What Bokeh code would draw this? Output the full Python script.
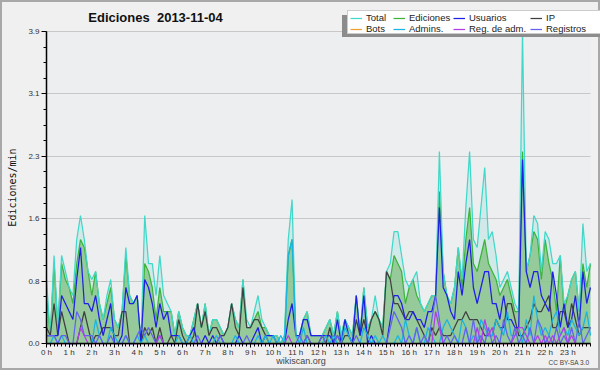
from bokeh.plotting import figure
from bokeh.models import (Range1d, FixedTicker, CustomJSTickFormatter, PrintfTickFormatter,
                          Legend, LegendItem, Label, BoxAnnotation, ColumnDataSource)
from bokeh.embed import file_html
from bokeh.resources import INLINE

# ---------------- data (edits per minute, 10-minute slots, 2013-11-04) ----------------
title_text = "Ediciones\u00a0 2013-11-04"
y_label = "Ediciones/min"
credit_site = "wikiscan.org"
credit_license = "CC BY-SA 3.0"
hour_labels_suffix = " h"

total = [
    0.8, 0.1, 1.1, 0.2, 1.1, 0.9, 0.7, 0.6, 1.3, 1.6,
    1.3, 0.9, 0.8, 0.9, 0.5, 0.3, 0.6, 0.8, 0.3, 0.2,
    0.4, 1.2, 0.6, 0.5, 0.6, 0.0, 1.6, 1.0, 1.0, 0.6,
    1.1, 0.6, 0.5, 0.4, 0.1, 0.4, 0.2, 0.1, 0.1, 0.3,
    0.5, 0.2, 0.5, 0.1, 0.3, 0.3, 0.2, 0.1, 0.2, 0.5,
    0.3, 0.2, 0.8, 0.3, 0.2, 0.4, 0.6, 0.3, 0.2, 0.1,
    0.1, 0.1, 0.0, 0.1, 1.3, 1.8, 0.1, 0.1, 0.3, 0.4,
    0.1, 0.1, 0.1, 0.1, 0.2, 0.3, 0.1, 0.4, 0.1, 0.3,
    0.2, 0.1, 0.6, 0.1, 0.7, 0.2, 0.3, 0.6, 0.3, 0.2,
    0.9, 1.0, 1.4, 1.4, 1.1, 0.8, 0.7, 0.8, 0.9, 0.5,
    0.4, 0.5, 0.6, 0.6, 2.4, 0.9, 0.6, 0.5, 0.7, 1.2,
    0.8, 1.7, 2.4, 1.3, 1.2, 1.7, 2.2, 1.3, 1.4, 1.1,
    0.7, 0.8, 0.9, 0.7, 0.5, 0.4, 3.9, 0.9, 1.1, 1.6,
    1.5, 0.9, 1.4, 1.3, 1.0, 1.0, 1.1, 0.5, 0.6, 0.8,
    0.9, 0.4, 1.5, 0.9, 1.0,
]
ediciones = [
    0.6, 0.1, 1.0, 0.2, 1.0, 0.8, 0.7, 0.5, 1.0, 1.3,
    1.2, 0.9, 0.6, 0.9, 0.5, 0.3, 0.5, 0.7, 0.3, 0.2,
    0.4, 1.1, 0.6, 0.5, 0.6, 0.0, 1.0, 0.9, 0.7, 0.3,
    0.7, 0.4, 0.4, 0.4, 0.1, 0.4, 0.2, 0.1, 0.1, 0.3,
    0.5, 0.2, 0.5, 0.1, 0.3, 0.3, 0.2, 0.1, 0.2, 0.5,
    0.3, 0.2, 0.8, 0.2, 0.2, 0.3, 0.4, 0.2, 0.2, 0.1,
    0.1, 0.1, 0.0, 0.1, 1.1, 1.3, 0.1, 0.1, 0.3, 0.4,
    0.1, 0.1, 0.1, 0.1, 0.2, 0.3, 0.1, 0.4, 0.1, 0.3,
    0.2, 0.1, 0.6, 0.1, 0.7, 0.2, 0.3, 0.4, 0.3, 0.2,
    0.9, 0.8, 1.1, 1.0, 0.9, 0.5, 0.7, 0.8, 0.6, 0.5,
    0.4, 0.5, 0.6, 0.6, 1.9, 0.9, 0.6, 0.5, 0.7, 1.2,
    0.7, 1.3, 1.7, 1.0, 0.9, 1.1, 1.3, 1.0, 0.9, 0.8,
    0.6, 0.7, 0.8, 0.6, 0.4, 0.4, 2.4, 0.9, 1.1, 1.4,
    1.3, 0.8, 1.3, 1.0, 0.8, 0.4, 1.1, 0.4, 0.6, 0.8,
    0.9, 0.4, 1.0, 0.7, 1.0,
]
usuarios = [
    0.1, 0.1, 0.1, 0.1, 0.6, 0.5, 0.4, 0.3, 0.8, 1.2,
    0.5, 0.5, 0.4, 0.6, 0.3, 0.1, 0.3, 0.5, 0.0, 0.0,
    0.1, 0.7, 0.5, 0.5, 0.6, 0.0, 0.8, 0.7, 0.5, 0.2,
    0.5, 0.3, 0.4, 0.1, 0.1, 0.1, 0.0, 0.0, 0.1, 0.2,
    0.0, 0.0, 0.1, 0.0, 0.1, 0.0, 0.1, 0.0, 0.0, 0.0,
    0.0, 0.1, 0.0, 0.0, 0.0, 0.1, 0.2, 0.0, 0.1, 0.1,
    0.1, 0.0, 0.0, 0.0, 0.3, 0.5, 0.1, 0.1, 0.3, 0.3,
    0.1, 0.1, 0.1, 0.1, 0.1, 0.1, 0.0, 0.3, 0.0, 0.3,
    0.1, 0.0, 0.6, 0.1, 0.6, 0.0, 0.1, 0.0, 0.0, 0.0,
    0.0, 0.3, 0.6, 0.6, 0.5, 0.3, 0.3, 0.4, 0.3, 0.3,
    0.2, 0.4, 0.4, 0.6, 1.7, 0.7, 0.6, 0.4, 0.3, 0.9,
    0.6, 1.0, 1.3, 0.7, 0.5, 0.7, 0.9, 0.9, 0.5, 0.5,
    0.3, 0.6, 0.3, 0.3, 0.2, 0.2, 2.3, 0.9, 0.7, 0.9,
    0.9, 0.6, 0.5, 0.4, 0.9, 0.6, 0.2, 0.5, 0.2, 0.3,
    0.6, 0.2, 0.9, 0.5, 0.7,
]
ip = [
    0.2, 0.1, 0.5, 0.1, 0.4, 0.2, 0.0, 0.0, 0.0, 0.2,
    0.4, 0.2, 0.0, 0.1, 0.1, 0.2, 0.2, 0.2, 0.1, 0.1,
    0.4, 0.4, 0.0, 0.0, 0.0, 0.0, 0.2, 0.1, 0.2, 0.0,
    0.2, 0.0, 0.0, 0.1, 0.0, 0.3, 0.1, 0.0, 0.0, 0.1,
    0.5, 0.2, 0.4, 0.1, 0.2, 0.2, 0.1, 0.1, 0.2, 0.5,
    0.2, 0.1, 0.7, 0.2, 0.2, 0.3, 0.3, 0.2, 0.1, 0.0,
    0.0, 0.0, 0.0, 0.0, 0.0, 0.0, 0.0, 0.0, 0.0, 0.1,
    0.0, 0.0, 0.0, 0.1, 0.0, 0.2, 0.0, 0.1, 0.0, 0.1,
    0.1, 0.0, 0.3, 0.1, 0.3, 0.1, 0.3, 0.4, 0.3, 0.1,
    0.9, 0.8, 0.5, 0.5, 0.4, 0.3, 0.4, 0.4, 0.3, 0.2,
    0.1, 0.0, 0.2, 0.1, 0.2, 0.1, 0.1, 0.1, 0.2, 0.3,
    0.3, 0.4, 0.3, 0.3, 0.3, 0.2, 0.1, 0.1, 0.1, 0.3,
    0.2, 0.2, 0.5, 0.5, 0.3, 0.1, 0.1, 0.2, 0.3, 0.5,
    0.4, 0.4, 0.5, 0.6, 0.2, 0.2, 0.4, 0.4, 0.2, 0.5,
    0.3, 0.1, 0.2, 0.2, 0.2,
]
bots = [
    0, 0, 0, 0, 0, 0, 0, 0, 0, 0, 0, 0, 0, 0, 0, 0, 0, 0, 0, 0,
    0, 0, 0, 0, 0, 0, 0, 0, 0, 0, 0, 0, 0, 0, 0, 0, 0, 0, 0, 0,
    0, 0, 0, 0, 0, 0, 0, 0, 0, 0, 0, 0, 0, 0, 0, 0, 0, 0, 0, 0,
    0, 0, 0, 0, 0, 0, 0, 0, 0, 0, 0, 0, 0, 0, 0, 0, 0, 0, 0, 0,
    0, 0, 0, 0, 0, 0, 0, 0, 0, 0, 0, 0, 0, 0, 0, 0, 0, 0, 0, 0,
    0, 0, 0, 0, 0, 0, 0, 0, 0, 0, 0, 0, 0, 0, 0, 0, 0, 0, 0, 0,
    0, 0, 0, 0, 0, 0, 0, 0, 0, 0, 0, 0, 0, 0, 0, 0, 0, 0, 0, 0,
    0, 0, 0, 0, 0,
]
admins = [
    0.0, 0.0, 0.1, 0.0, 0.1, 0.0, 0.0, 0.0, 0.0, 0.0,
    0.0, 0.0, 0.0, 0.3, 0.1, 0.0, 0.0, 0.2, 0.1, 0.0,
    0.0, 0.1, 0.0, 0.0, 0.1, 0.0, 0.1, 0.0, 0.0, 0.0,
    0.1, 0.0, 0.0, 0.0, 0.0, 0.1, 0.0, 0.0, 0.1, 0.0,
    0.0, 0.0, 0.0, 0.0, 0.0, 0.1, 0.0, 0.0, 0.0, 0.0,
    0.1, 0.0, 0.0, 0.0, 0.0, 0.0, 0.1, 0.0, 0.1, 0.0,
    0.1, 0.0, 0.1, 0.0, 1.1, 1.3, 0.1, 0.0, 0.2, 0.0,
    0.0, 0.0, 0.0, 0.0, 0.1, 0.0, 0.1, 0.0, 0.0, 0.2,
    0.1, 0.0, 0.0, 0.0, 0.2, 0.1, 0.0, 0.1, 0.0, 0.1,
    0.0, 0.0, 0.0, 0.1, 0.0, 0.3, 0.1, 0.0, 0.2, 0.0,
    0.0, 0.2, 0.1, 0.0, 0.0, 0.2, 0.3, 0.2, 0.1, 0.0,
    0.3, 0.2, 0.0, 0.1, 0.0, 0.3, 0.2, 0.1, 0.1, 0.3,
    0.2, 0.1, 0.4, 0.1, 0.1, 0.2, 0.0, 0.3, 0.1, 0.6,
    0.3, 0.1, 0.2, 0.1, 0.3, 0.4, 0.1, 0.2, 0.1, 0.3,
    0.2, 0.1, 0.2, 0.4, 0.1,
]
reg_adm = [
    0.0, 0.0, 0.0, 0.0, 0.0, 0.0, 0.0, 0.0, 0.0, 0.2,
    0.1, 0.0, 0.0, 0.0, 0.0, 0.0, 0.0, 0.0, 0.0, 0.0,
    0.0, 0.0, 0.0, 0.0, 0.0, 0.0, 0.0, 0.0, 0.0, 0.0,
    0.1, 0.0, 0.0, 0.0, 0.0, 0.0, 0.0, 0.0, 0.0, 0.0,
    0.0, 0.0, 0.0, 0.0, 0.0, 0.0, 0.0, 0.0, 0.0, 0.0,
    0.0, 0.0, 0.0, 0.0, 0.0, 0.0, 0.0, 0.0, 0.0, 0.0,
    0.0, 0.0, 0.0, 0.0, 0.1, 0.0, 0.0, 0.0, 0.0, 0.0,
    0.0, 0.0, 0.0, 0.0, 0.0, 0.0, 0.0, 0.0, 0.0, 0.0,
    0.0, 0.0, 0.0, 0.0, 0.0, 0.0, 0.0, 0.0, 0.0, 0.0,
    0.0, 0.0, 0.0, 0.0, 0.0, 0.0, 0.0, 0.0, 0.0, 0.0,
    0.0, 0.0, 0.0, 0.4, 0.2, 0.0, 0.0, 0.0, 0.0, 0.0,
    0.0, 0.0, 0.0, 0.0, 0.2, 0.0, 0.3, 0.1, 0.2, 0.0,
    0.0, 0.0, 0.0, 0.0, 0.1, 0.2, 0.2, 0.1, 0.0, 0.0,
    0.1, 0.0, 0.1, 0.0, 0.1, 0.0, 0.1, 0.2, 0.0, 0.1,
    0.0, 0.0, 0.0, 0.0, 0.0,
]
registros = [
    0.1, 0.1, 0.1, 0.0, 0.1, 0.1, 0.0, 0.0, 0.4, 0.3,
    0.1, 0.1, 0.1, 0.0, 0.1, 0.0, 0.0, 0.1, 0.0, 0.0,
    0.0, 0.1, 0.0, 0.0, 0.1, 0.2, 0.1, 0.2, 0.1, 0.0,
    0.1, 0.0, 0.0, 0.0, 0.0, 0.0, 0.0, 0.0, 0.0, 0.0,
    0.1, 0.0, 0.0, 0.0, 0.0, 0.0, 0.1, 0.0, 0.0, 0.0,
    0.0, 0.0, 0.0, 0.1, 0.0, 0.0, 0.0, 0.0, 0.0, 0.0,
    0.0, 0.0, 0.0, 0.0, 0.0, 0.0, 0.0, 0.1, 0.0, 0.1,
    0.0, 0.0, 0.0, 0.1, 0.0, 0.0, 0.0, 0.1, 0.0, 0.0,
    0.0, 0.0, 0.1, 0.0, 0.0, 0.0, 0.0, 0.0, 0.0, 0.0,
    0.0, 0.2, 0.4, 0.3, 0.2, 0.0, 0.1, 0.0, 0.2, 0.0,
    0.1, 0.0, 0.3, 0.6, 0.3, 0.0, 0.1, 0.0, 0.1, 0.0,
    0.0, 0.2, 0.0, 0.3, 0.0, 0.1, 0.0, 0.2, 0.0, 0.1,
    0.0, 0.3, 0.1, 0.0, 0.2, 0.0, 0.1, 0.0, 0.2, 0.0,
    0.3, 0.2, 0.0, 0.1, 0.0, 0.2, 0.0, 0.1, 0.0, 0.2,
    0.0, 0.3, 0.0, 0.1, 0.2,
]

n_slots = len(total)
slot_hours = [i / 6 for i in range(n_slots)]      # 10-minute slots expressed in hours
hour_ticks = list(range(24))
y_max = max(total)
y_major = [k * y_max / 5 for k in range(6)]
y_minor = [k * y_max / 20 for k in range(21)]

# ---------------- layout (frame spans the whole canvas; axes fixed at 0) ----------------
FONT = "Liberation Sans"
W, H = 600, 370
PLOT_LEFT, PLOT_RIGHT = 46, 590          # pixel columns of 0 h and 24 h
PLOT_TOP, PLOT_BOTTOM = 31, 343          # pixel rows of y = y_max and y = 0
px_per_hour = (PLOT_RIGHT - PLOT_LEFT) / 24
px_per_unit = (PLOT_BOTTOM - PLOT_TOP) / y_max
x_lo = -PLOT_LEFT / px_per_hour
x_hi = 24 + (W - PLOT_RIGHT) / px_per_hour
y_lo = -(H - PLOT_BOTTOM) / px_per_unit
y_hi = y_max + PLOT_TOP / px_per_unit

p = figure(width=W, height=H, output_backend="svg", toolbar_location=None, title=None,
           x_range=Range1d(x_lo, x_hi), y_range=Range1d(y_lo, y_hi),
           min_border_left=0, min_border_right=0, min_border_top=0, min_border_bottom=0)
p.background_fill_color = "#f0f0f0"
p.border_fill_color = "#f0f0f0"
p.outline_line_color = "#a8a8a8"
p.outline_line_width = 3

# plotting-area background
p.add_layout(BoxAnnotation(left=0, right=24, bottom=0, top=y_max, fill_color="#eceef0",
                           fill_alpha=1.0, line_color=None, level="image"))

# axes
p.xaxis.ticker = FixedTicker(ticks=hour_ticks, minor_ticks=slot_hours)
p.xaxis.formatter = CustomJSTickFormatter(code="return tick + '%s'" % hour_labels_suffix)
p.xaxis.fixed_location = 0
p.xaxis.bounds = (0, 24)
p.yaxis.ticker = FixedTicker(ticks=y_major, minor_ticks=y_minor)
p.yaxis.formatter = PrintfTickFormatter(format="%.1f")
p.yaxis.fixed_location = 0
p.yaxis.bounds = (0, y_max)
for ax in (p.xaxis[0], p.yaxis[0]):
    ax.axis_line_color = "black"
    ax.axis_line_width = 1.5
    ax.major_tick_line_color = "black"
    ax.minor_tick_line_color = "black"
    ax.major_tick_in = 0
    ax.minor_tick_in = 0
    ax.major_label_text_font = FONT
    ax.major_label_text_font_size = "8px"
    ax.major_label_text_color = "#333333"
p.xaxis.major_label_standoff = 0
p.yaxis.major_label_standoff = 2
p.xaxis.major_tick_out = 4
p.xaxis.minor_tick_out = 3
p.yaxis.major_tick_out = 5
p.yaxis.minor_tick_out = 3
p.yaxis.axis_label = y_label
p.yaxis.axis_label_text_font = "DejaVu Sans Mono"
p.yaxis.axis_label_text_font_size = "10px"
p.yaxis.axis_label_text_font_style = "normal"
p.yaxis.axis_label_text_color = "#111111"
p.yaxis.axis_label_standoff = 7

p.xgrid.visible = False
ygrid = p.ygrid[0]
if "cross_bounds" in ygrid.properties():
    ygrid.cross_bounds = (0, 24)
    ygrid.grid_line_color = "#c8c8c8"
    ygrid.grid_line_width = 1
else:
    ygrid.visible = False
    p.segment(x0=0, x1=24, y0=y_major, y1=y_major, line_color="#c8c8c8", line_width=1,
              level="underlay")

src = ColumnDataSource(dict(x=slot_hours, total=total, ediciones=ediciones, usuarios=usuarios,
                            ip=ip, bots=bots, admins=admins, reg_adm=reg_adm, registros=registros))

# areas
p.varea(x="x", y1=0, y2="total", source=src, fill_color="#40d0c8", fill_alpha=0.15)
p.varea(x="x", y1=0, y2="ediciones", source=src, fill_color="#8cc48c", fill_alpha=0.85)

LW = 1.25
r_bots = p.line("x", "bots", source=src, line_color="#f0a030", line_width=LW)
r_ed = p.line("x", "ediciones", source=src, line_color="#3cb43c", line_width=LW)
r_tot = p.line("x", "total", source=src, line_color="#40d8c8", line_width=LW)
r_ip = p.line("x", "ip", source=src, line_color="#404040", line_width=LW)
r_us = p.line("x", "usuarios", source=src, line_color="#1f1fe6", line_width=LW)
r_adm = p.line("x", "admins", source=src, line_color="#1ab4e0", line_width=LW)
r_reg = p.line("x", "registros", source=src, line_color="#6262f0", line_width=LW)
r_radm = p.line("x", "reg_adm", source=src, line_color="#b43ce6", line_width=LW)

# invisible helper renderer used by the legend's boxes
r_none = p.line(x=[], y=[], line_alpha=0)


def box(left, bottom, width, height, fill, border):
    """A plain rectangle drawn as an (empty) legend box; screen px from the bottom-left."""
    return Legend(items=[LegendItem(label=" ", renderers=[r_none])], location=(left, bottom),
                  glyph_width=width - 2, glyph_height=height, label_standoff=0, padding=0,
                  margin=0, label_text_font_size="5px", label_text_color=fill,
                  border_line_color=border, border_line_width=1,
                  background_fill_color=fill, background_fill_alpha=1.0)


# legend shadow and frame
p.add_layout(box(342, H - 37, 246, 22, "#8c8c8c", None))
p.add_layout(box(347, H - 34, 246, 22, "#ffffff", "#999999"))

# legend columns (two entries each)
columns = [
    (350, [("Total", r_tot), ("Bots", r_bots)]),
    (393, [("Ediciones", r_ed), ("Admins.", r_adm)]),
    (453, [("Usuarios", r_us), ("Reg. de adm.", r_radm)]),
    (530, [("IP", r_ip), ("Registros", r_reg)]),
]
for col_x, entries in columns:
    lg = Legend(items=[LegendItem(label=t, renderers=[r]) for t, r in entries],
                location=(col_x, H - 34), orientation="vertical",
                label_text_font=FONT, label_text_font_size="9.5px", label_text_color="#222222",
                glyph_width=12, glyph_height=8, label_height=8, label_standoff=4,
                spacing=0, padding=0, margin=0,
                border_line_color=None, background_fill_alpha=0)
    p.add_layout(lg)

# title and credits (screen px from the bottom-left corner)
p.add_layout(Label(x=155, y=H - 17, x_units="screen", y_units="screen", text=title_text,
                   text_align="center", text_baseline="middle", text_font=FONT,
                   text_font_style="bold", text_font_size="13px", text_color="#111111"))
p.add_layout(Label(x=300.5, y=H - 360, x_units="screen", y_units="screen", text=credit_site,
                   text_align="center", text_baseline="middle", text_font=FONT,
                   text_font_size="9px", text_color="#444444"))
p.add_layout(Label(x=589, y=H - 362, x_units="screen", y_units="screen", text=credit_license,
                   text_align="right", text_baseline="middle", text_font=FONT,
                   text_font_size="6.5px", text_color="#444444"))

open("out.html", "w").write(file_html(p, INLINE))
